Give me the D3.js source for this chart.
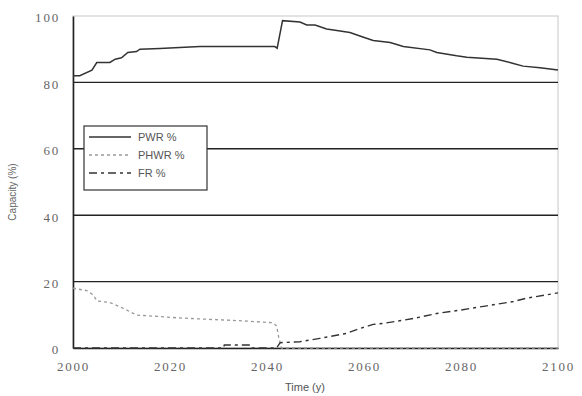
<!DOCTYPE html>
<html>
<head>
<meta charset="utf-8">
<script src="https://cdn.jsdelivr.net/npm/d3@7/dist/d3.min.js"></script>
<style>
  body { margin: 0; background: #fff; }
  svg { display: block; }
</style>
</head>
<body>
<svg></svg>
<script>
// PWR share of capacity (%)
const pwrYears = [2000, 2001.4, 2003.9, 2004.9, 2007.6, 2008.7, 2010, 2011.3, 2013.1, 2013.8, 2017.9, 2022, 2026.2, 2041.6, 2042.1, 2043.2, 2046.8, 2048.2, 2049.9, 2052.3, 2054.4, 2057.1, 2059.9, 2061.9, 2065.4, 2068.1, 2073.6, 2075, 2079.1, 2081.2, 2087.4, 2090.8, 2092.8, 2096.3, 2100];
const pwrValues = [82, 82, 83.7, 86, 86, 87, 87.4, 89, 89.3, 90, 90.2, 90.5, 90.8, 90.8, 90.3, 98.6, 98.2, 97.3, 97.3, 96.1, 95.6, 95.0, 93.6, 92.6, 92, 90.8, 89.8, 89, 88, 87.6, 87, 85.7, 84.9, 84.4, 83.7];

// PHWR share of capacity (%)
const phwrYears = [2000, 2002.8, 2004.2, 2004.9, 2007.6, 2009.7, 2011.8, 2013.1, 2016.6, 2021.4, 2026.9, 2031.7, 2035.8, 2041.3, 2042, 2042.4, 2043, 2100];
const phwrValues = [18, 17.3, 16, 14.2, 13.7, 12.4, 10.9, 9.9, 9.6, 9.1, 8.7, 8.4, 8.1, 7.6, 6.6, 3.4, 0, 0];

// FR share of capacity (%)
const frYears = [2000, 2031, 2031.2, 2036.5, 2036.7, 2042, 2042.7, 2046.8, 2050.9, 2056.4, 2059.2, 2061.9, 2064, 2070.2, 2075, 2079.8, 2085.3, 2090.8, 2093.5, 2100];
const frValues = [0, 0, 0.9, 0.9, 0, 0, 1.6, 1.9, 2.9, 4.4, 5.9, 7.1, 7.4, 8.9, 10.4, 11.4, 12.7, 14, 15, 16.6];

const xTicks = [2000, 2020, 2040, 2060, 2080, 2100];
const yTicks = [0, 20, 40, 60, 80, 100];
const legendLabels = ["PWR %", "PHWR %", "FR %"];

const width = 582;
const height = 396;
const margin = { top: 16, left: 73, bottom: 48, right: 24 };

const svg = d3.select("svg")
  .attr("width", width)
  .attr("height", height);

const x = d3.scaleLinear()
  .domain([2000, 2100])
  .range([margin.left, width - margin.right]);

const y = d3.scaleLinear()
  .domain([0, 100])
  .range([height - margin.bottom, margin.top]);

// light frame on top and right
svg.append("rect")
  .attr("x", x(2000))
  .attr("y", y(100))
  .attr("width", x(2100) - x(2000))
  .attr("height", y(0) - y(100))
  .attr("fill", "none")
  .attr("stroke", "#c8c8c8")
  .attr("stroke-width", 1);

// dark gridlines
svg.append("g")
  .selectAll("line")
  .data(yTicks.filter(d => d > 0 && d < 100))
  .enter()
  .append("line")
    .attr("x1", x(2000))
    .attr("x2", x(2100))
    .attr("y1", d => y(d))
    .attr("y2", d => y(d))
    .attr("stroke", "#222")
    .attr("stroke-width", 1.4);

// axes
const xAxis = d3.axisBottom(x).tickValues(xTicks).tickSize(0).tickPadding(14).tickFormat(d3.format("d"));
const yAxis = d3.axisLeft(y).tickValues(yTicks).tickSize(0).tickPadding(13);

const gx = svg.append("g")
  .attr("transform", `translate(0,${y(0)})`)
  .call(xAxis);
const gy = svg.append("g")
  .attr("transform", `translate(${x(2000)},0)`)
  .call(yAxis);

[gx, gy].forEach(g => {
  g.select(".domain").attr("stroke", "#222").attr("stroke-width", 1.6);
  g.selectAll("text")
    .attr("fill", "#666")
    .style("font-family", "'Liberation Serif', serif")
    .style("font-size", "13px")
    .style("letter-spacing", "1.8px");
});
gy.selectAll(".tick text").attr("dy", "0.45em");

// series lines
const line = d3.line()
  .x(d => x(d[0]))
  .y(d => y(d[1]));

const series = [
  { years: pwrYears, values: pwrValues, color: "#333", dash: null, w: 1.5 },
  { years: phwrYears, values: phwrValues, color: "#999", dash: "3,3", w: 1.3 },
  { years: frYears, values: frValues, color: "#333", dash: "8,4,3,4", w: 1.4 }
];

series.forEach(s => {
  svg.append("path")
    .datum(d3.zip(s.years, s.values))
    .attr("d", line)
    .attr("fill", "none")
    .attr("stroke", s.color)
    .attr("stroke-width", s.w)
    .attr("stroke-dasharray", s.dash);
});

// legend
const legend = svg.append("g");
legend.append("rect")
  .attr("x", 84)
  .attr("y", 126)
  .attr("width", 123)
  .attr("height", 64)
  .attr("fill", "#fff")
  .attr("stroke", "#333")
  .attr("stroke-width", 1.2);

legendLabels.forEach((lbl, i) => {
  const ly = 137 + i * 18;
  const s = series[i];
  legend.append("line")
    .attr("x1", 89).attr("x2", 131)
    .attr("y1", ly).attr("y2", ly)
    .attr("stroke", s.color)
    .attr("stroke-width", s.w)
    .attr("stroke-dasharray", s.dash);
  legend.append("text")
    .attr("x", 138)
    .attr("y", ly + 4)
    .text(lbl)
    .style("font-family", "'Liberation Sans', sans-serif")
    .style("font-size", "11px")
    .attr("fill", "#555");
});

// axis titles
svg.append("text")
  .attr("transform", `translate(16,${(y(0) + y(100)) / 2 + 10}) rotate(-90)`)
  .attr("text-anchor", "middle")
  .text("Capacity (%)")
  .style("font-family", "'Liberation Sans', sans-serif")
  .style("font-size", "10px")
  .attr("fill", "#666");

svg.append("text")
  .attr("x", 305)
  .attr("y", 391)
  .attr("text-anchor", "middle")
  .text("Time (y)")
  .style("font-family", "'Liberation Sans', sans-serif")
  .style("font-size", "11px")
  .attr("fill", "#555");
</script>
</body>
</html>
